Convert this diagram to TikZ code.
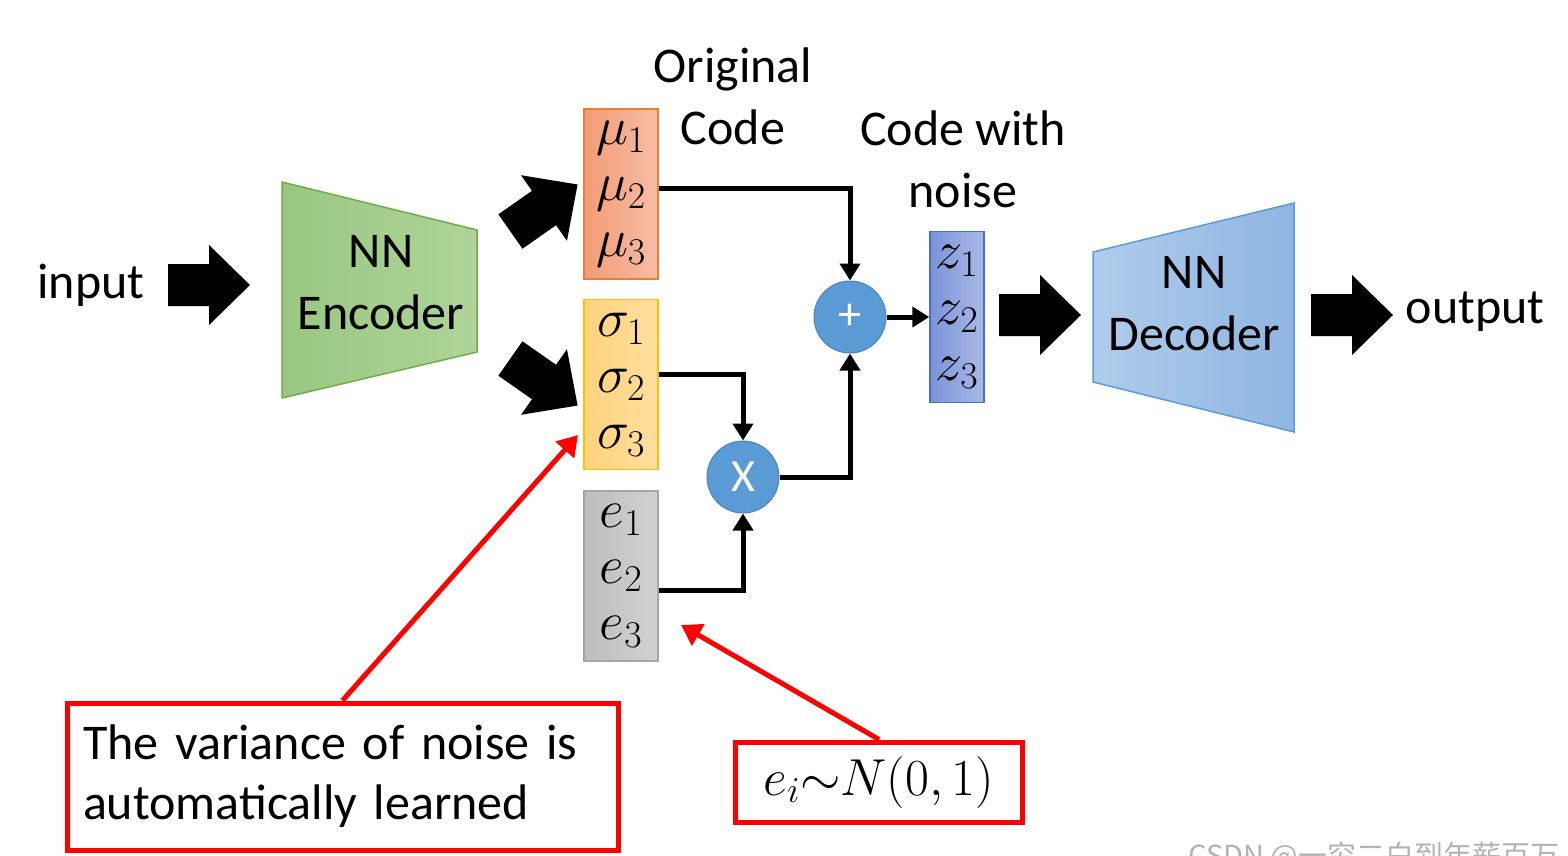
\RequirePackage{fix-cm}
\documentclass[tikz,border=0pt]{standalone}
\usepackage[no-math]{fontspec}
\setmainfont{Carlito}
\newfontfamily\cjk{Noto Sans CJK SC}
\usetikzlibrary{arrows.meta,positioning}

\definecolor{muL}{HTML}{F39B76}
\definecolor{muR}{HTML}{F7BDA5}
\definecolor{muEdge}{HTML}{ED7D31}
\definecolor{sigL}{HTML}{FFD27C}
\definecolor{sigR}{HTML}{FFDF9F}
\definecolor{sigEdge}{HTML}{FFC000}
\definecolor{eL}{HTML}{BDBDBD}
\definecolor{eR}{HTML}{D2D2D2}
\definecolor{eEdge}{HTML}{A5A5A5}
\definecolor{zL}{HTML}{7C93D8}
\definecolor{zR}{HTML}{A9B9E7}
\definecolor{zEdge}{HTML}{4472C4}
\definecolor{encL}{HTML}{99C783}
\definecolor{encR}{HTML}{AFD499}
\definecolor{encEdge}{HTML}{70AD47}
\definecolor{decL}{HTML}{B0CCEB}
\definecolor{decR}{HTML}{8FB5E1}
\definecolor{decEdge}{HTML}{5B9BD5}
\definecolor{opBlue}{HTML}{5B9BD5}
\definecolor{opEdge}{HTML}{4A83BD}

\tikzset{
  every node/.style={font=\fontsize{50}{62}\selectfont},
  codebox/.style={draw, line width=1.5pt, minimum width=74pt, minimum height=170pt,
    inner sep=0pt, align=center, font=\fontsize{54}{56}\selectfont},
  op/.style={circle, fill=opBlue, draw=opEdge, line width=1pt, minimum size=72pt,
    inner sep=0pt, text=white, font=\fontsize{46}{46}\selectfont},
  link/.style={line width=5pt, -{Triangle[length=17pt,width=20pt]}},
  redlink/.style={red, line width=5pt, -{Triangle[length=20pt,width=24pt]}},
  note/.style={draw=red, line width=5pt},
  fat/.pic={\fill (-41,-21) -- (0,-21) -- (0,-40) -- (41,0) -- (0,40) -- (0,21) -- (-41,21) -- cycle;}
}

\begin{document}
\begin{tikzpicture}[x=1pt,y=-1pt]

  \useasboundingbox (0,0) rectangle (1568,855);
  \clip (0,0) rectangle (1568,855);

  % encoder and decoder
  \shade[left color=encL, right color=encR, draw=encEdge, line width=1.5pt]
    (282,182) -- (477,230) -- (477,352) -- (282,398) -- cycle;
  \shade[left color=decL, right color=decR, draw=decEdge, line width=1.5pt]
    (1093,252) -- (1294,203) -- (1294,432) -- (1093,382) -- cycle;

  \node[align=center] (enc) at (381,283) {NN\\Encoder};
  \node[align=center] (dec) at (1194,304) {NN\\Decoder};
  \node (in) at (91,285) {input};
  \node (out) at (1475,312) {output};

  % code vectors
  \node[codebox, draw=muEdge, left color=muL, right color=muR] (mu) at (621,194)
    {$\mu_1$\\$\mu_2$\\$\mu_3$};
  \node[codebox, draw=sigEdge, left color=sigL, right color=sigR, below=19pt of mu] (sig)
    {$\sigma_1$\\$\sigma_2$\\$\sigma_3$};
  \node[codebox, draw=eEdge, left color=eL, right color=eR, below=20pt of sig] (ee)
    {$e_1$\\$e_2$\\$e_3$};
  \node[codebox, minimum width=54pt, minimum height=171pt, draw=zEdge, left color=zL, right color=zR] (zz) at (957,317)
    {$z_1$\\$z_2$\\$z_3$};

  \node[op] (plus) at (850,317) {+};
  \node[op] (times) at (743,477) {X};

  \node[align=center] (orig) at (733,96) {Original\\Code};
  \node[align=center] (noisy) at (963,159) {Code with\\noise};

  % fat arrows
  \pic at (209,285) {fat};
  \pic[rotate=35] at (544,208) {fat};
  \pic[rotate=-35] at (544,382) {fat};
  \pic at (1040,315) {fat};
  \pic at (1352,315) {fat};

  \draw[link] ([yshift=6pt]mu.east) -| (plus);
  \draw[link] ([yshift=10pt]sig.east) -| (times);
  \draw[link] ([yshift=-14pt]ee.east) -| (times);
  \draw[link] (times) -| (plus);
  \draw[link] (plus) -- (zz);

  % notes
  \node[note, text width=519pt, inner sep=16pt, minimum height=147pt, align=left,
    font=\fontsize{50}{60}\selectfont] (var) at (342.5,776.5)
    {The variance of noise is\\automatically learned};
  \node[note, minimum width=287pt, minimum height=80pt, font=\fontsize{52}{60}\selectfont] (dist) at (879,782)
    {$e_i{\sim}N(0,1)$};

  \coordinate (sigtip) at (578,435);
  \coordinate (etip) at (681,625);
  \draw[redlink] (var.north) -- (sigtip);
  \draw[redlink] (dist.north) -- (etip);

  \node[anchor=base west, text=black!30, font=\cjk\fontsize{29}{29}\selectfont] (wm) at (1185,866)
    {CSDN @一穷二白到年薪百万};

\end{tikzpicture}
\end{document}
